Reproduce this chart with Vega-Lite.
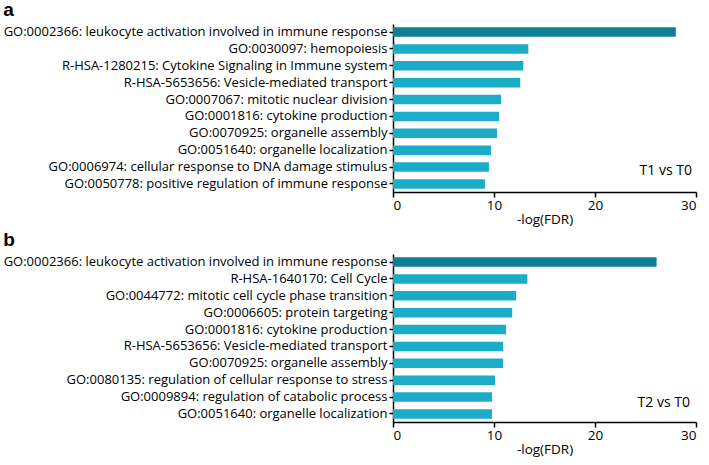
{
  "$schema": "https://vega.github.io/schema/vega-lite/v6.json",
  "padding": {"left": 3, "top": 1, "right": 8, "bottom": 2},
  "background": "white",
  "spacing": 5,
  "config": {
    "view": {"stroke": null},
    "font": "Open Sans",
    "axis": {
      "grid": false,
      "domainColor": "#000000",
      "tickColor": "#000000",
      "labelColor": "#000000",
      "titleColor": "#000000",
      "labelFont": "Open Sans",
      "titleFont": "Open Sans",
      "titleFontWeight": "normal",
      "domainWidth": 1.5,
      "tickWidth": 1.5,
      "labelLimit": 0
    },
    "title": {"anchor": "start", "frame": "bounds", "fontSize": 19, "fontWeight": "bold", "font": "Liberation Sans", "color": "#000000", "offset": 0}
  },
  "datasets": {
    "t1": [
      {"term": "GO:0002366: leukocyte activation involved in immune response", "value": 28.0},
      {"term": "GO:0030097: hemopoiesis", "value": 13.4},
      {"term": "R-HSA-1280215: Cytokine Signaling in Immune system", "value": 12.9},
      {"term": "R-HSA-5653656: Vesicle-mediated transport", "value": 12.6},
      {"term": "GO:0007067: mitotic nuclear division", "value": 10.7},
      {"term": "GO:0001816: cytokine production", "value": 10.5},
      {"term": "GO:0070925: organelle assembly", "value": 10.3},
      {"term": "GO:0051640: organelle localization", "value": 9.7},
      {"term": "GO:0006974: cellular response to DNA damage stimulus", "value": 9.5},
      {"term": "GO:0050778: positive regulation of immune response", "value": 9.1}
    ],
    "t2": [
      {"term": "GO:0002366: leukocyte activation involved in immune response", "value": 26.1},
      {"term": "R-HSA-1640170: Cell Cycle", "value": 13.3},
      {"term": "GO:0044772: mitotic cell cycle phase transition", "value": 12.2},
      {"term": "GO:0006605: protein targeting", "value": 11.8},
      {"term": "GO:0001816: cytokine production", "value": 11.2},
      {"term": "R-HSA-5653656: Vesicle-mediated transport", "value": 10.9},
      {"term": "GO:0070925: organelle assembly", "value": 10.9},
      {"term": "GO:0080135: regulation of cellular response to stress", "value": 10.1},
      {"term": "GO:0009894: regulation of catabolic process", "value": 9.8},
      {"term": "GO:0051640: organelle localization", "value": 9.8}
    ]
  },
  "vconcat": [
    {
      "title": "a",
      "width": 303,
      "height": 168,
      "layer": [
        {
          "data": {"name": "t1"},
          "mark": {"type": "bar"},
          "encoding": {
            "y": {"field": "term", "type": "nominal", "sort": null, "title": null,
                  "scale": {"paddingInner": 0.44, "paddingOuter": 0.2},
                  "axis": {"labelFontSize": 13, "labelPadding": 2, "tickSize": 4}},
            "x": {"field": "value", "type": "quantitative", "title": "-log(FDR)",
                  "scale": {"domain": [0, 30]},
                  "axis": {"values": [0, 10, 20, 30], "labelFontSize": 13.5, "titleFontSize": 13.5, "tickSize": 5, "labelPadding": 1, "titlePadding": 1}},
            "color": {"condition": {"test": "datum.value > 20", "value": "#0f7f96"}, "value": "#1badc8"}
          }
        },
        {
          "data": {"values": [{"label": "T1 vs T0", "x": 29.6, "term": "GO:0006974: cellular response to DNA damage stimulus"}]},
          "mark": {"type": "text", "align": "right", "fontSize": 14, "font": "Open Sans", "dy": 4, "color": "#000000"},
          "encoding": {
            "x": {"field": "x", "type": "quantitative"},
            "y": {"field": "term", "type": "nominal", "sort": null},
            "text": {"field": "label"}
          }
        }
      ]
    },
    {
      "title": "b",
      "width": 303,
      "height": 168,
      "layer": [
        {
          "data": {"name": "t2"},
          "mark": {"type": "bar"},
          "encoding": {
            "y": {"field": "term", "type": "nominal", "sort": null, "title": null,
                  "scale": {"paddingInner": 0.44, "paddingOuter": 0.2},
                  "axis": {"labelFontSize": 13, "labelPadding": 2, "tickSize": 4}},
            "x": {"field": "value", "type": "quantitative", "title": "-log(FDR)",
                  "scale": {"domain": [0, 30]},
                  "axis": {"values": [0, 10, 20, 30], "labelFontSize": 13.5, "titleFontSize": 13.5, "tickSize": 5, "labelPadding": 1, "titlePadding": 1}},
            "color": {"condition": {"test": "datum.value > 20", "value": "#0f7f96"}, "value": "#1badc8"}
          }
        },
        {
          "data": {"values": [{"label": "T2 vs T0", "x": 29.4, "term": "GO:0009894: regulation of catabolic process"}]},
          "mark": {"type": "text", "align": "right", "fontSize": 14, "font": "Open Sans", "dy": 6, "color": "#000000"},
          "encoding": {
            "x": {"field": "x", "type": "quantitative"},
            "y": {"field": "term", "type": "nominal", "sort": null},
            "text": {"field": "label"}
          }
        }
      ]
    }
  ]
}
